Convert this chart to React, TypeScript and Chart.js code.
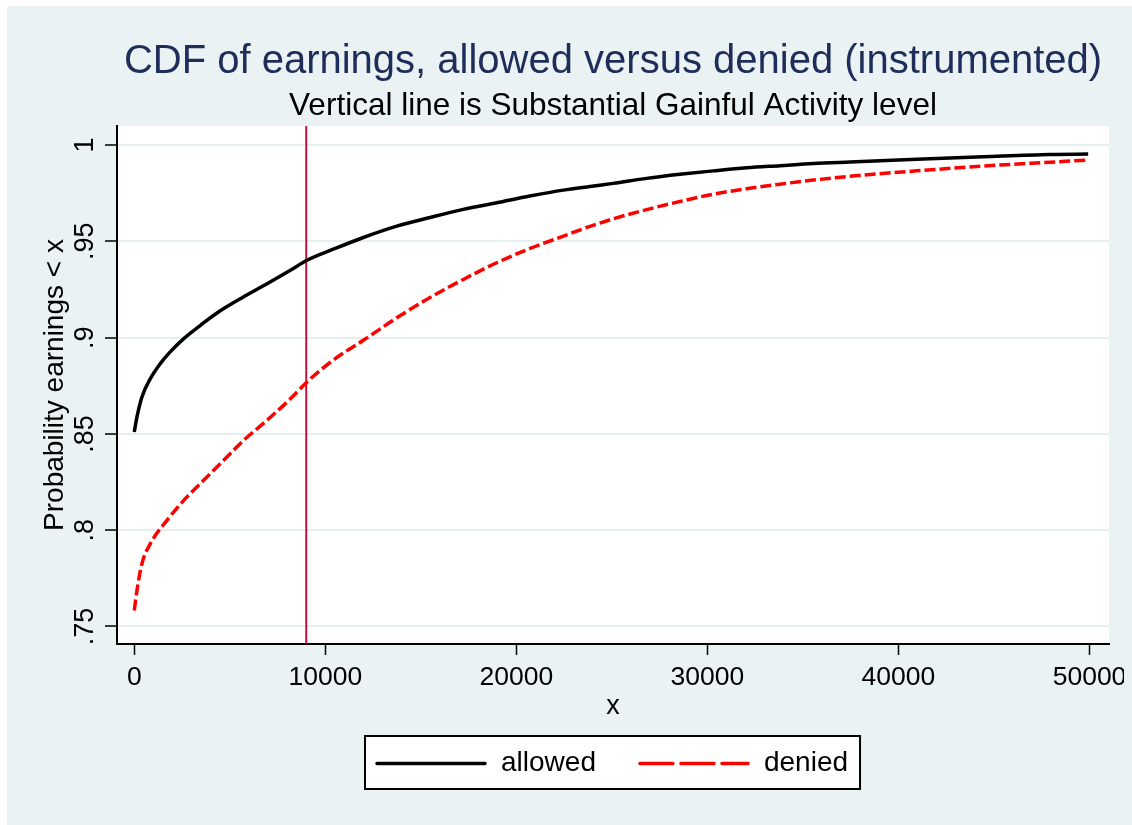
import React, { useEffect, useRef } from "react";
import { Chart, registerables } from "chart.js";

Chart.register(...registerables);

// ---------- text ----------
const TITLE = "CDF of earnings, allowed versus denied (instrumented)";
const SUBTITLE = "Vertical line is Substantial Gainful Activity level";
const X_LABEL = "x";
const Y_LABEL = "Probability earnings < x";
const SERIES_NAMES = ["allowed", "denied"];

// ---------- axes ----------
const X_TICKS = [0, 10000, 20000, 30000, 40000, 50000];
const X_TICK_LABELS = ["0", "10000", "20000", "30000", "40000", "50000"];
const Y_TICKS = [0.75, 0.8, 0.85, 0.9, 0.95, 1];
const Y_TICK_LABELS = [".75", ".8", ".85", ".9", ".95", "1"];
const X_MIN = -905;
const X_MAX = 51020;
const Y_MIN = 0.7409;
const Y_MAX = 1.0099;

// Substantial Gainful Activity level (vertical reference line)
const SGA_LEVEL = 9000;

// ---------- data ----------
const allowedX = [
  0, 140, 400, 840, 1360, 1880, 2590, 3460, 4330, 5730, 6950, 8170, 9040,
  10520, 11990, 13740, 15480, 17220, 18970, 20710, 22460, 23850, 25070,
  26820, 28560, 30310, 32050, 33800, 35540, 37460, 40950, 44440, 47930, 49930,
];
const allowedY = [
  0.851, 0.8588, 0.8692, 0.8787, 0.8865, 0.8926, 0.8995, 0.9064, 0.9128,
  0.9212, 0.928, 0.935, 0.9402, 0.9463, 0.952, 0.9579, 0.9624, 0.9666,
  0.97, 0.9735, 0.9766, 0.9785, 0.9801, 0.9827, 0.9848, 0.9866, 0.9882,
  0.9893, 0.9904, 0.9912, 0.9926, 0.9939, 0.9951, 0.9953,
];

const deniedX = [
  0, 140, 400, 840, 1710, 2590, 3630, 4680, 5730, 6950, 8170, 9040, 10520,
  11990, 13740, 15480, 17220, 18970, 20710, 22460, 23850, 25070, 26820,
  28560, 30310, 32050, 33800, 35540, 37460, 40950, 44440, 47930, 49930,
];
const deniedY = [
  0.7583, 0.7687, 0.7826, 0.793, 0.8051, 0.8155, 0.8259, 0.8363, 0.8467,
  0.8571, 0.8682, 0.877, 0.8891, 0.8986, 0.9103, 0.9208, 0.9302, 0.9389,
  0.9463, 0.9527, 0.9578, 0.9617, 0.9665, 0.9707, 0.9745, 0.9773, 0.9797,
  0.9818, 0.9838, 0.9866, 0.9891, 0.9911, 0.9922,
];

// ---------- style ----------
const FONT = '"Liberation Sans", Arial, Helvetica, sans-serif';
const BG = "#EAF2F3";
const GRID = "#E6EFF1";
const TITLE_COLOR = "#1E2D5A";
const SGA_COLOR = "#C8103E";
const SERIES_COLORS = ["#000000", "#FF0000"];
const PLOT_DASH = [[], [11, 4]];
const LEGEND_DASH = [[], [33, 8]];

// canvas sits in the body's content box (8px default margin)
const OFF = 8;
const W = 1116;
const H = 809;

// plot-region layout (page px -> canvas px)
const AREA_LEFT = 117 - OFF;
const AREA_RIGHT = 1109 - OFF;
const AREA_TOP = 126 - OFF;
const AREA_BOTTOM = 644 - OFF;
const X_AXIS_H = 85;

const bgPlugin = {
  id: "bgPlugin",
  beforeDraw(chart: any) {
    const { ctx, chartArea: a, width, height } = chart;
    ctx.save();
    ctx.fillStyle = BG;
    ctx.fillRect(0, 0, width, height);
    ctx.fillStyle = "#FFFFFF";
    ctx.fillRect(a.left, a.top, a.right - a.left, a.bottom - a.top);
    ctx.restore();
  },
};

const sgaPlugin = {
  id: "sgaPlugin",
  beforeDatasetsDraw(chart: any) {
    const { ctx, chartArea: a } = chart;
    const x = chart.scales.x.getPixelForValue(SGA_LEVEL);
    ctx.save();
    ctx.strokeStyle = SGA_COLOR;
    ctx.lineWidth = 2;
    ctx.beginPath();
    ctx.moveTo(x, a.top);
    ctx.lineTo(x, a.bottom);
    ctx.stroke();
    ctx.restore();
  },
};

const titlePlugin = {
  id: "titlePlugin",
  afterDraw(chart: any) {
    const { ctx, chartArea: a } = chart;
    const cx = (a.left + a.right) / 2;
    ctx.save();
    ctx.textAlign = "center";
    ctx.textBaseline = "alphabetic";
    ctx.fillStyle = TITLE_COLOR;
    ctx.font = `40px ${FONT}`;
    ctx.fillText(TITLE, cx, 72.5 - OFF);
    ctx.fillStyle = "#000000";
    ctx.font = `31.5px ${FONT}`;
    ctx.fillText(SUBTITLE, cx, 115 - OFF);
    ctx.restore();
  },
};

const legendPlugin = {
  id: "boxLegend",
  afterDraw(chart: any) {
    const { ctx, chartArea: a } = chart;
    const fontSize = 28;
    const lineLen = 108;
    const gapText = 16;
    const gapItems = 44;
    const pad = 12;
    const boxTop = 736 - OFF;
    const boxH = 53;
    ctx.save();
    ctx.font = `${fontSize}px ${FONT}`;
    const ds = chart.data.datasets;
    const widths = ds.map((d: any) => ctx.measureText(d.label).width);
    let total = pad * 2;
    widths.forEach((w: number, i: number) => {
      total += lineLen + gapText + w + (i > 0 ? gapItems : 0);
    });
    const cx = (a.left + a.right) / 2;
    const left = Math.round(cx - total / 2);
    ctx.fillStyle = "#FFFFFF";
    ctx.fillRect(left, boxTop, total, boxH);
    ctx.strokeStyle = "#000000";
    ctx.lineWidth = 2;
    ctx.strokeRect(left, boxTop, total, boxH);
    const cy = boxTop + boxH / 2 + 1;
    let x = left + pad;
    ds.forEach((d: any, i: number) => {
      ctx.beginPath();
      ctx.strokeStyle = d.borderColor;
      ctx.lineWidth = 3.5;
      ctx.lineCap = "round";
      ctx.setLineDash(LEGEND_DASH[i]);
      ctx.moveTo(x, cy);
      ctx.lineTo(x + lineLen, cy);
      ctx.stroke();
      ctx.setLineDash([]);
      x += lineLen + gapText;
      ctx.fillStyle = "#000000";
      ctx.textAlign = "left";
      ctx.textBaseline = "middle";
      ctx.fillText(d.label, x, cy);
      x += widths[i] + gapItems;
    });
    ctx.restore();
  },
};

function toPoints(xs: number[], ys: number[]) {
  return xs.map((x, i) => ({ x, y: ys[i] }));
}

export default function App() {
  const ref = useRef<HTMLCanvasElement | null>(null);

  useEffect(() => {
    // page backdrop: white strip at top/left, graph colour to the right/bottom edges
    document.documentElement.style.background =
      `linear-gradient(to right, #FFFFFF 7px, rgba(255,255,255,0) 7px), ` +
      `linear-gradient(to bottom, #FFFFFF 6px, rgba(255,255,255,0) 6px), ${BG}`;
    const canvas = ref.current;
    if (!canvas) return;
    Chart.defaults.font.family = FONT;

    const chart = new Chart(canvas, {
      type: "line",
      data: {
        datasets: [
          {
            label: SERIES_NAMES[0],
            data: toPoints(allowedX, allowedY),
            borderColor: SERIES_COLORS[0],
            borderWidth: 3.5,
            borderDash: PLOT_DASH[0],
            pointRadius: 0,
            cubicInterpolationMode: "monotone",
            fill: false,
          },
          {
            label: SERIES_NAMES[1],
            data: toPoints(deniedX, deniedY),
            borderColor: SERIES_COLORS[1],
            borderWidth: 3.5,
            borderDash: PLOT_DASH[1],
            pointRadius: 0,
            cubicInterpolationMode: "monotone",
            fill: false,
          },
        ],
      },
      options: {
        animation: false,
        responsive: false,
        maintainAspectRatio: false,
        layout: {
          padding: {
            top: AREA_TOP,
            right: W - AREA_RIGHT,
            bottom: H - AREA_BOTTOM - X_AXIS_H,
            left: 0,
          },
        },
        plugins: {
          legend: { display: false },
          title: { display: false },
          tooltip: { enabled: false },
        },
        scales: {
          x: {
            type: "linear",
            min: X_MIN,
            max: X_MAX,
            afterBuildTicks: (s: any) => {
              s.ticks = X_TICKS.map((v) => ({ value: v }));
            },
            afterFit: (s: any) => {
              s.height = X_AXIS_H;
              s.paddingRight = 0;
              s.paddingLeft = 0;
            },
            ticks: {
              color: "#000",
              font: { size: 26.5 },
              padding: 7,
              maxRotation: 0,
              minRotation: 0,
              autoSkip: false,
              callback: (v: any) => {
                const i = X_TICKS.indexOf(Number(v));
                return i >= 0 ? X_TICK_LABELS[i] : "";
              },
            },
            grid: {
              drawOnChartArea: false,
              drawTicks: true,
              tickLength: 11,
              tickColor: "#000",
              tickWidth: 1.5,
            },
            border: { display: true, color: "#000", width: 2 },
            title: {
              display: true,
              text: X_LABEL,
              color: "#000",
              font: { size: 27 },
              padding: { top: 0, bottom: 6 },
            },
          },
          y: {
            type: "linear",
            min: Y_MIN,
            max: Y_MAX,
            afterBuildTicks: (s: any) => {
              s.ticks = Y_TICKS.map((v) => ({ value: v }));
            },
            afterFit: (s: any) => {
              s.width = AREA_LEFT;
            },
            ticks: {
              color: "#000",
              font: { size: 27 },
              padding: 1,
              minRotation: 90,
              maxRotation: 90,
              crossAlign: "center",
              autoSkip: false,
              callback: (v: any) => {
                let best = 0;
                Y_TICKS.forEach((t, i) => {
                  if (Math.abs(t - Number(v)) < Math.abs(Y_TICKS[best] - Number(v))) best = i;
                });
                return Y_TICK_LABELS[best];
              },
            },
            grid: {
              color: GRID,
              lineWidth: 2,
              drawTicks: true,
              tickLength: 12,
              tickColor: "#000",
              tickWidth: 1.5,
            },
            border: { display: true, color: "#000", width: 2 },
            title: {
              display: true,
              text: Y_LABEL,
              color: "#000",
              font: { size: 28 },
              padding: { top: 30, bottom: 0 },
            },
          },
        },
      },
      plugins: [bgPlugin, sgaPlugin, titlePlugin, legendPlugin],
    } as any);

    return () => chart.destroy();
  }, []);

  return (
    <div style={{ width: W, height: H }}>
      <canvas ref={ref} width={W} height={H} style={{ display: "block" }} />
    </div>
  );
}
